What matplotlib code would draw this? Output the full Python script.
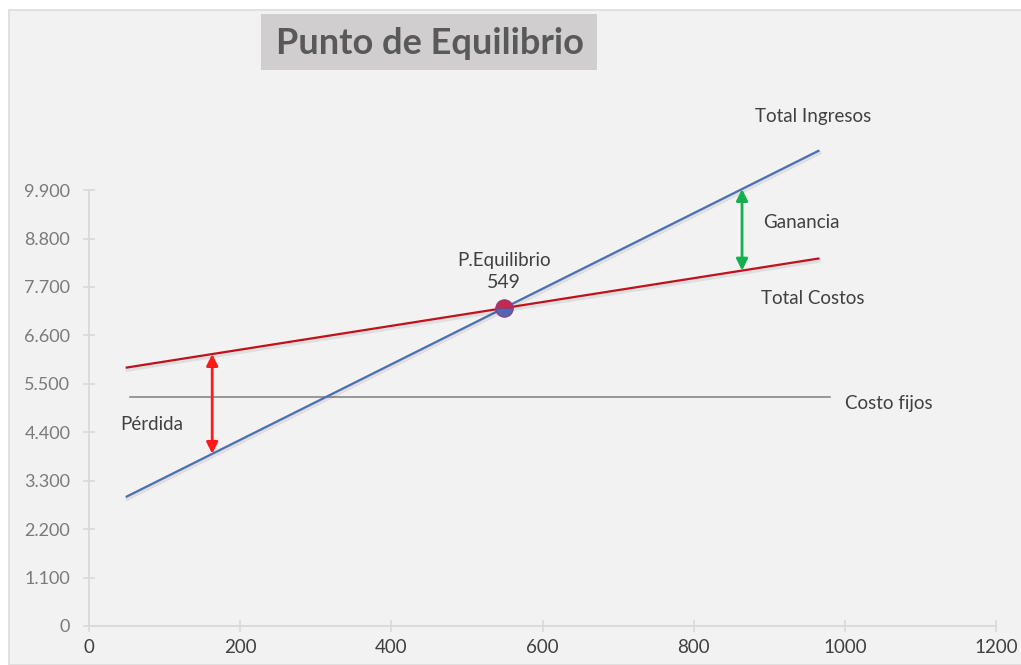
import matplotlib.pyplot as plt
import matplotlib.patches as patches
import matplotlib.patheffects as pe
import numpy as np

plt.rcParams['font.family'] = ['Lato', 'DejaVu Sans']

# volumen (unidades) de los extremos de las rectas
q_lineas = [50, 965]
total_ingresos = [2940, 10790]
total_costos = [5870, 8345]

# costos fijos
q_fijos = [54, 980]
costo_fijo = 5200

# punto de equilibrio
q_equilibrio = 549

# cantidades donde se marcan perdida y ganancia
q_perdida = 163
q_ganancia = 864

x_ticks = [0, 200, 400, 600, 800, 1000, 1200]
y_ticks = [0, 1100, 2200, 3300, 4400, 5500, 6600, 7700, 8800, 9900]


def fmt_miles(v):
    return f"{v:,.0f}".replace(",", ".")


BG = '#f2f2f2'
AXIS = '#d9d9d9'
TXT = '#404040'

fig = plt.figure(figsize=(10.21, 6.65), dpi=100)
fig.patch.set_facecolor('white')
# fondo del area del grafico con borde fino
fig.patches.append(patches.Rectangle((9 / 1021, 0), 1.0, (665 - 10) / 665,
                                     transform=fig.transFigure, facecolor=BG,
                                     edgecolor='#dcdcdc', linewidth=1.2, zorder=-2))

ax = fig.add_axes([89 / 1021, 39 / 665, (996 - 89) / 1021, (626 - 97.6) / 665])
ax.set_facecolor('none')
ax.set_xlim(0, 1200)
ax.set_ylim(0, 12000)

for s in ['top', 'right']:
    ax.spines[s].set_visible(False)
for s in ['left', 'bottom']:
    ax.spines[s].set_color(AXIS)
    ax.spines[s].set_linewidth(1.3)
ax.spines['left'].set_bounds(0, 9900)

ax.set_xticks(x_ticks)
ax.set_yticks(y_ticks)
ax.set_yticklabels([fmt_miles(v) for v in y_ticks])
ax.tick_params(axis='y', direction='inout', length=9, width=1.2, color=AXIS,
               labelcolor='#7a7a7a', labelsize=13, pad=9)
ax.tick_params(axis='x', direction='inout', length=9, width=1.2, color=AXIS,
               labelcolor=TXT, labelsize=13.5, pad=5)

shadow = [pe.SimpleLineShadow(offset=(0.5, -1.5), alpha=0.08, shadow_color='k',
                              linewidth=3), pe.Normal()]

ax.plot(q_fijos, [costo_fijo, costo_fijo], color='#7f7f7f', lw=1.1, zorder=2)
ax.plot(q_lineas, total_ingresos, color='#4a6fb0', lw=1.6, zorder=3,
        path_effects=shadow, clip_on=False)
ax.plot(q_lineas, total_costos, color='#c0121c', lw=1.6, zorder=3,
        path_effects=shadow, clip_on=False)

y_equilibrio = np.interp(q_equilibrio, q_lineas, total_costos)
ax.plot(q_equilibrio, y_equilibrio, marker='o', markersize=12.5, fillstyle='top',
        markerfacecolor='#c42a4e', markerfacecoloralt='#5566b0',
        markeredgecolor='#8a3c80', markeredgewidth=0.8, zorder=5)


def flecha(q, color):
    y1 = np.interp(q, q_lineas, total_ingresos)
    y2 = np.interp(q, q_lineas, total_costos)
    ax.annotate('', xy=(q, y1), xytext=(q, y2),
                arrowprops=dict(arrowstyle='<|-|>', color=color, lw=2,
                                mutation_scale=17, shrinkA=0, shrinkB=0),
                zorder=4)


flecha(q_perdida, '#ff1a1a')
flecha(q_ganancia, '#12b050')

lbl = dict(color=TXT, fontsize=13.5, va='center')
ax.text(881, 11580, 'Total Ingresos', ha='left', **lbl)
ax.text(892, 9173, 'Ganancia', ha='left', **lbl)
ax.text(889, 7448, 'Total Costos', ha='left', **lbl)
ax.text(1000, 5064, 'Costo fijos', ha='left', **lbl)
ax.text(42, 4587, 'Pérdida', ha='left', **lbl)
ax.text(q_equilibrio, 8311, 'P.Equilibrio', ha='center', **lbl)
ax.text(q_equilibrio, 7811, f'{q_equilibrio}', ha='center', color=TXT, fontsize=14,
        va='center')

# titulo sobre caja gris
fig.patches.append(patches.Rectangle((261 / 1021, (665 - 70) / 665), 336 / 1021, 56 / 665,
                                     transform=fig.transFigure, facecolor='#d0cece',
                                     edgecolor='none', zorder=-1))
fig.text(430 / 1021, (665 - 44) / 665, 'Punto de Equilibrio', ha='center', va='center',
         fontsize=26, fontweight='bold', color='#595959')

fig.savefig('out.png', dpi=100, facecolor=fig.get_facecolor())
